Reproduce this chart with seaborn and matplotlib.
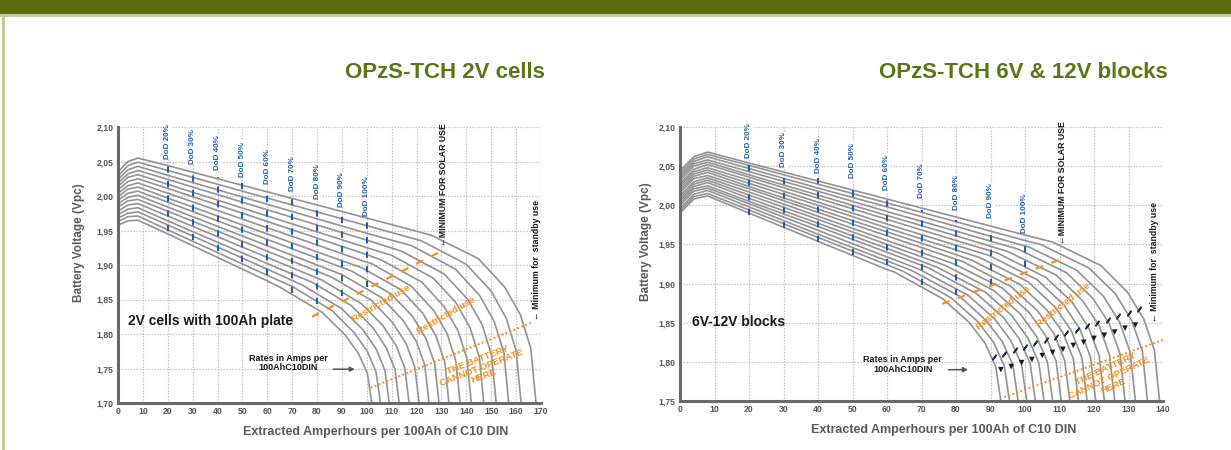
import numpy as np
import pandas as pd
import matplotlib.pyplot as plt
import seaborn as sns
from matplotlib.patches import Rectangle

# ---------------- left chart : OPzS-TCH 2V cells ----------------
left_lin_x = [0, 4, 8, 20, 40, 60, 80, 100, 120]
left_lin_v = [
    [1.958, 1.964, 1.965, 1.945, 1.911, 1.877],
    [1.963, 1.970, 1.971, 1.951, 1.918, 1.885],
    [1.968, 1.975, 1.977, 1.958, 1.926, 1.894],
    [1.973, 1.981, 1.983, 1.964, 1.933, 1.902],
    [1.978, 1.987, 1.989, 1.971, 1.941, 1.911, 1.881],
    [1.984, 1.993, 1.995, 1.978, 1.949, 1.920, 1.891],
    [1.989, 1.998, 2.001, 1.984, 1.956, 1.928, 1.900],
    [1.994, 2.004, 2.007, 1.991, 1.964, 1.937, 1.910],
    [1.999, 2.010, 2.013, 1.997, 1.971, 1.945, 1.919],
    [2.004, 2.015, 2.019, 2.004, 1.979, 1.954, 1.929, 1.904],
    [2.009, 2.021, 2.025, 2.011, 1.987, 1.963, 1.939, 1.915],
    [2.014, 2.027, 2.031, 2.017, 1.994, 1.971, 1.948, 1.925],
    [2.019, 2.032, 2.037, 2.024, 2.002, 1.980, 1.958, 1.936],
    [2.024, 2.038, 2.043, 2.030, 2.009, 1.988, 1.967, 1.946],
    [2.029, 2.044, 2.049, 2.037, 2.017, 1.997, 1.977, 1.957, 1.937],
    [2.035, 2.050, 2.055, 2.044, 2.025, 2.006, 1.987, 1.968, 1.949],
]
left_knee_x = [
    [66, 82.2, 91.2, 96.6, 100.2, 102],
    [70, 86, 94.9, 100.2, 103.7, 105.5],
    [74, 89.8, 98.5, 103.8, 107.3, 109],
    [78, 93.8, 102.5, 107.8, 111.3, 113],
    [82, 97.8, 106.5, 111.8, 115.3, 117],
    [86, 101.8, 110.5, 115.8, 119.3, 121],
    [90, 105.8, 114.5, 119.8, 123.3, 125],
    [94, 109.8, 118.5, 123.8, 127.3, 129],
    [98, 113.8, 122.5, 127.8, 131.3, 133],
    [102, 118, 126.9, 132.2, 135.7, 137.5],
    [106, 122.2, 131.2, 136.6, 140.2, 142],
    [110, 126.7, 135.9, 141.5, 145.2, 147],
    [114, 131.1, 140.6, 146.3, 150.1, 152],
    [118, 135.6, 145.3, 151.2, 155.1, 157],
    [122, 140, 150, 156, 160, 162],
    [126, 144.9, 155.4, 161.7, 165.9, 168],
]
left_knee_v = [
    [1.866, 1.831, 1.799, 1.772, 1.743, 1.70],
    [1.869, 1.834, 1.802, 1.775, 1.745, 1.70],
    [1.871, 1.837, 1.806, 1.778, 1.747, 1.70],
    [1.875, 1.841, 1.809, 1.780, 1.749, 1.70],
    [1.878, 1.844, 1.812, 1.783, 1.750, 1.70],
    [1.882, 1.849, 1.816, 1.786, 1.752, 1.70],
    [1.886, 1.853, 1.820, 1.790, 1.755, 1.70],
    [1.891, 1.858, 1.825, 1.793, 1.757, 1.70],
    [1.896, 1.864, 1.830, 1.797, 1.760, 1.70],
    [1.902, 1.869, 1.834, 1.801, 1.762, 1.70],
    [1.907, 1.875, 1.839, 1.805, 1.765, 1.70],
    [1.914, 1.881, 1.845, 1.809, 1.767, 1.70],
    [1.920, 1.887, 1.850, 1.814, 1.770, 1.70],
    [1.928, 1.894, 1.856, 1.818, 1.773, 1.70],
    [1.935, 1.901, 1.862, 1.823, 1.776, 1.70],
    [1.943, 1.909, 1.868, 1.828, 1.779, 1.70],
]
left_dod_x = [20, 30, 40, 50, 60, 70, 80, 90, 100]
left_dod_text_v = [2.054, 2.047, 2.037, 2.028, 2.018, 2.007, 1.996, 1.984, 1.971]
left_dod_top = [2.043, 2.036, 2.028, 2.020, 2.010, 2.000, 1.990, 1.978, 1.965]
left_dod_bottom = [1.950, 1.936, 1.920, 1.905, 1.885, 1.860, 1.843, 1.855, 1.868]
left_restricted_x = [78, 131]
left_restricted_v = [1.825, 1.922]
left_limit_x = [101.5, 166]
left_limit_v = [1.722, 1.816]
left_yticks = [1.70, 1.75, 1.80, 1.85, 1.90, 1.95, 2.00, 2.05, 2.10]
left_ytick_labels = ["1,70", "1,75", "1,80", "1,85", "1,90", "1,95", "2,00", "2,05", "2,10"]
left_xticks = [0, 10, 20, 30, 40, 50, 60, 70, 80, 90, 100, 110, 120, 130, 140, 150, 160, 170]

# ---------------- right chart : OPzS-TCH 6V & 12V blocks ----------------
right_lin_x = [0, 4, 8, 20, 40, 60, 80, 100]
right_lin_v = [
    [1.990, 2.008, 2.012, 1.990, 1.954, 1.918],
    [1.993, 2.011, 2.015, 1.994, 1.959, 1.924],
    [1.996, 2.014, 2.019, 1.998, 1.963, 1.929],
    [2.000, 2.018, 2.022, 2.002, 1.968, 1.934],
    [2.003, 2.021, 2.025, 2.005, 1.973, 1.940],
    [2.006, 2.024, 2.029, 2.009, 1.977, 1.945],
    [2.009, 2.027, 2.032, 2.013, 1.982, 1.950],
    [2.012, 2.030, 2.035, 2.017, 1.986, 1.955],
    [2.016, 2.034, 2.038, 2.021, 1.991, 1.961, 1.931],
    [2.019, 2.037, 2.042, 2.024, 1.995, 1.966, 1.937],
    [2.022, 2.040, 2.045, 2.028, 2.000, 1.971, 1.943],
    [2.025, 2.043, 2.048, 2.032, 2.004, 1.976, 1.949],
    [2.028, 2.046, 2.052, 2.036, 2.009, 1.982, 1.955],
    [2.032, 2.050, 2.055, 2.039, 2.013, 1.987, 1.961],
    [2.035, 2.053, 2.058, 2.043, 2.018, 1.992, 1.967],
    [2.038, 2.056, 2.062, 2.047, 2.022, 1.998, 1.973, 1.948],
    [2.041, 2.059, 2.065, 2.051, 2.027, 2.003, 1.979, 1.955],
    [2.044, 2.062, 2.068, 2.054, 2.031, 2.008, 1.985, 1.962],
]
right_knee_x = [
    [62, 76, 83.7, 88.4, 91.5, 93],
    [64.5, 78.5, 86.2, 90.9, 94, 95.5],
    [67, 81, 88.7, 93.4, 96.5, 98],
    [69.5, 83.5, 91.2, 95.9, 99, 100.5],
    [72, 86, 93.7, 98.4, 101.5, 103],
    [74.5, 88.5, 96.2, 100.9, 104, 105.5],
    [77, 91, 98.7, 103.4, 106.5, 108],
    [79.5, 93.5, 101.2, 105.9, 109, 110.5],
    [82, 96, 103.7, 108.4, 111.5, 113],
    [84.5, 98.5, 106.2, 110.9, 114, 115.5],
    [87, 101, 108.7, 113.4, 116.5, 118],
    [89.5, 103.5, 111.2, 115.9, 119, 120.5],
    [92, 106, 113.7, 118.4, 121.5, 123],
    [95, 109, 116.7, 121.4, 124.5, 126],
    [98, 112, 119.7, 124.4, 127.5, 129],
    [101, 115, 122.7, 127.4, 130.5, 132],
    [104.5, 118.5, 126.2, 130.9, 134, 135.5],
    [108, 122, 129.7, 134.4, 137.5, 139],
]
right_knee_v = [
    [1.915, 1.881, 1.851, 1.824, 1.794, 1.75],
    [1.916, 1.882, 1.852, 1.825, 1.795, 1.75],
    [1.917, 1.884, 1.853, 1.826, 1.796, 1.75],
    [1.918, 1.885, 1.855, 1.827, 1.797, 1.75],
    [1.920, 1.887, 1.857, 1.829, 1.798, 1.75],
    [1.921, 1.889, 1.859, 1.830, 1.799, 1.75],
    [1.923, 1.891, 1.861, 1.832, 1.800, 1.75],
    [1.925, 1.894, 1.863, 1.834, 1.801, 1.75],
    [1.928, 1.896, 1.865, 1.836, 1.802, 1.75],
    [1.930, 1.899, 1.867, 1.838, 1.804, 1.75],
    [1.933, 1.902, 1.870, 1.840, 1.805, 1.75],
    [1.936, 1.905, 1.873, 1.842, 1.806, 1.75],
    [1.939, 1.908, 1.876, 1.844, 1.808, 1.75],
    [1.941, 1.911, 1.878, 1.847, 1.809, 1.75],
    [1.944, 1.914, 1.881, 1.849, 1.811, 1.75],
    [1.947, 1.917, 1.884, 1.851, 1.812, 1.75],
    [1.950, 1.920, 1.887, 1.853, 1.814, 1.75],
    [1.953, 1.923, 1.889, 1.855, 1.815, 1.75],
]
right_dod_x = [20, 30, 40, 50, 60, 70, 80, 90, 100]
right_dod_text_v = [2.060, 2.049, 2.041, 2.035, 2.020, 2.009, 1.994, 1.984, 1.965]
right_dod_top = [2.051, 2.045, 2.035, 2.020, 2.016, 1.994, 1.981, 1.966, 1.949]
right_dod_bottom = [1.988, 1.971, 1.953, 1.937, 1.924, 1.898, 1.885, 1.898, 1.921]
right_restricted_x = [76, 111]
right_restricted_v = [1.874, 1.932]
right_limit_x = [94, 140]
right_limit_v = [1.755, 1.828]
right_rate_x = [93, 96, 99, 102, 105, 108, 111, 114, 117, 120, 123, 126, 129, 132]
right_rate_v = [1.790, 1.794, 1.799, 1.803, 1.808, 1.812, 1.816, 1.821, 1.825, 1.830, 1.834, 1.838, 1.843, 1.847]
right_mark_x = [91, 94, 97, 100, 103, 106, 109, 112, 115, 118, 121, 124, 127, 130, 133]
right_mark_v = [1.806, 1.810, 1.815, 1.819, 1.824, 1.828, 1.832, 1.837, 1.841, 1.846, 1.850, 1.854, 1.859, 1.863, 1.868]
right_yticks = [1.75, 1.80, 1.85, 1.90, 1.95, 2.00, 2.05, 2.10]
right_ytick_labels = ["1,75", "1,80", "1,85", "1,90", "1,95", "2,00", "2,05", "2,10"]
right_xticks = [0, 10, 20, 30, 40, 50, 60, 70, 80, 90, 100, 110, 120, 130, 140]

dod_labels = ["DoD 20%", "DoD 30%", "DoD 40%", "DoD 50%", "DoD 60%",
              "DoD 70%", "DoD 80%", "DoD 90%", "DoD 100%"]

GREY = "#939393"
BLUE = "#1f5fb0"
ORANGE = "#f7901e"
OLIVE = "#5b6b0e"

sns.set_theme(style="white")
plt.rcParams["font.family"] = ["Liberation Sans", "DejaVu Sans"]


def curve_frame(lin_x, lin_v, knee_x, knee_v):
    rows = []
    for i, (lv, kx, kv) in enumerate(zip(lin_v, knee_x, knee_v)):
        xs = lin_x[:len(lv)] + kx
        vs = lv + kv
        for x, v in zip(xs, vs):
            rows.append({"curve": i, "x": x, "v": v})
    return pd.DataFrame(rows)


def draw_panel(ax, df, xticks, yticks, yticklabels, dod_x, dod_text_v, dod_top, dod_bottom,
               restricted_x, restricted_v, limit_x, limit_v, xlabel_x, ylabel_x):
    sns.lineplot(data=df, x="x", y="v", units="curve", estimator=None, sort=False,
                 color=GREY, lw=1.2, ax=ax, legend=False)
    ax.set_xlim(xticks[0], xticks[-1])
    ax.set_ylim(yticks[0], yticks[-1])
    ax.set_xticks(xticks)
    ax.set_yticks(yticks)
    ax.set_yticklabels(yticklabels)
    ax.tick_params(length=0, labelsize=6.2, labelcolor="#555555", pad=3)
    for lab in ax.get_xticklabels() + ax.get_yticklabels():
        lab.set_fontweight("bold")
    ax.set_axisbelow(True)
    ax.grid(True, color="#b8b8b8", linestyle=(0, (1, 1.4)), lw=0.9)
    for side in ["top", "right"]:
        ax.spines[side].set_visible(False)
    for side in ["left", "bottom"]:
        ax.spines[side].set_color("#6a6a6a")
        ax.spines[side].set_linewidth(2.2)

    ax.set_xlabel("Extracted Amperhours per 100Ah of C10 DIN", fontsize=9,
                  weight="bold", color="#5a5a5a")
    ax.set_ylabel("Battery Voltage (Vpc)", fontsize=8.5, weight="bold", color="#5a5a5a")
    ax.xaxis.set_label_coords(xlabel_x, -0.085)
    ax.yaxis.set_label_coords(ylabel_x, 0.58)

    # depth of discharge markers
    ax.vlines(dod_x, dod_bottom, dod_top, colors=BLUE, lw=1.5,
              linestyles=[(0, (3, 4))], zorder=3)
    for x, v, lab in zip(dod_x, dod_text_v, dod_labels):
        ax.text(x, v, lab, rotation=90, ha="center", va="bottom", fontsize=5.8,
                weight="bold", color=BLUE, zorder=4,
                bbox=dict(fc="white", ec="none", pad=0.3))

    # restricted use / cannot operate boundaries
    ax.plot(restricted_x, restricted_v, color=ORANGE, lw=1.6, linestyle=(0, (3.5, 4)), zorder=3)
    ax.plot(limit_x, limit_v, color=ORANGE, lw=1.4, linestyle=(0, (1, 1.2)), zorder=3)


fig = plt.figure(figsize=(12.31, 4.5), dpi=100)
fig.patch.set_facecolor("white")

# header band and left frame line
fig.add_artist(Rectangle((0, 1 - 14 / 450), 1, 14 / 450, transform=fig.transFigure,
                         color=OLIVE, lw=0))
fig.add_artist(Rectangle((0, 1 - 16.5 / 450), 1, 2.5 / 450, transform=fig.transFigure,
                         color="#c3cb9c", lw=0))
fig.add_artist(Rectangle((2.5 / 1231, 0), 2.5 / 1231, 1 - 16 / 450, transform=fig.transFigure,
                         color="#c3cb9c", lw=0))

ax1 = fig.add_axes([118 / 1231, 47 / 450, 423 / 1231, 276 / 450])
ax2 = fig.add_axes([680 / 1231, 49 / 450, 483 / 1231, 274 / 450])

draw_panel(ax1, curve_frame(left_lin_x, left_lin_v, left_knee_x, left_knee_v),
           left_xticks, left_yticks, left_ytick_labels, left_dod_x, left_dod_text_v,
           left_dod_top, left_dod_bottom, left_restricted_x, left_restricted_v,
           left_limit_x, left_limit_v, 0.61, -0.078)
draw_panel(ax2, curve_frame(right_lin_x, right_lin_v, right_knee_x, right_knee_v),
           right_xticks, right_yticks, right_ytick_labels, right_dod_x, right_dod_text_v,
           right_dod_top, right_dod_bottom, right_restricted_x, right_restricted_v,
           right_limit_x, right_limit_v, 0.545, -0.058)

# titles
fig.text(545 / 1231, 1 - 73 / 450, "OPzS-TCH 2V cells", ha="right", va="center",
         fontsize=16, weight="bold", color="#5f7317")
fig.text(1168 / 1231, 1 - 73 / 450, "OPzS-TCH 6V & 12V blocks", ha="right", va="center",
         fontsize=16, weight="bold", color="#5f7317")

# left annotations
ax1.text(4, 1.819, "2V cells with 100Ah plate", ha="left", va="center", fontsize=10,
         weight="bold", color="#1a1a1a")
ax1.text(68.5, 1.758, "Rates in Amps per\n100AhC10DIN", ha="center", va="center",
         fontsize=6.5, weight="bold", color="#1a1a1a", linespacing=1.1)
ax1.annotate("", xy=(96.3, 1.749), xytext=(85.4, 1.749),
             arrowprops=dict(arrowstyle="-|>", color="#555555", lw=1.1, mutation_scale=7))
ax1.text(131, 1.928, "\u2190MINIMUM FOR SOLAR USE", rotation=90, ha="center", va="bottom",
         fontsize=6.3, weight="bold", color="#1a1a1a")
ax1.text(168, 1.82, "\u2190 Minimum for  standby use", rotation=90, ha="center", va="bottom",
         fontsize=6.3, weight="bold", color="#1a1a1a")
ax1.text(105.6, 1.844, "Restricted use", rotation=30, ha="center", va="center",
         fontsize=6.8, weight="bold", color=ORANGE)
ax1.text(131.7, 1.827, "Restricted use", rotation=30, ha="center", va="center",
         fontsize=6.8, weight="bold", color=ORANGE)
ax1.text(145.9, 1.751, "THE BATTERY\nCANNOT OPERATE\nHERE", rotation=21, ha="center",
         va="center", fontsize=6.8, weight="bold", color=ORANGE, linespacing=1.0,
         multialignment="center")

# right annotations
ax2.text(3.5, 1.851, "6V-12V blocks", ha="left", va="center", fontsize=10,
         weight="bold", color="#1a1a1a")
ax2.text(64.6, 1.797, "Rates in Amps per\n100AhC10DIN", ha="center", va="center",
         fontsize=6.5, weight="bold", color="#1a1a1a", linespacing=1.1)
ax2.annotate("", xy=(84.3, 1.79), xytext=(77, 1.79),
             arrowprops=dict(arrowstyle="-|>", color="#555555", lw=1.1, mutation_scale=7))
ax2.text(111, 1.95, "\u2190MINIMUM FOR SOLAR USE", rotation=90, ha="center", va="bottom",
         fontsize=6.3, weight="bold", color="#1a1a1a")
ax2.text(137.6, 1.851, "\u2190 Minimum for  standby use", rotation=90, ha="center",
         va="bottom", fontsize=6.3, weight="bold", color="#1a1a1a")
ax2.text(93.6, 1.869, "Restricted use", rotation=38, ha="center", va="center",
         fontsize=6.8, weight="bold", color=ORANGE)
ax2.text(111, 1.873, "Restricted use", rotation=38, ha="center", va="center",
         fontsize=6.8, weight="bold", color=ORANGE)
ax2.text(124.5, 1.78, "THE BATTERY\nCANNOT OPERATE\nHERE", rotation=25, ha="center",
         va="center", fontsize=6.8, weight="bold", color=ORANGE, linespacing=1.0,
         multialignment="center")
sns.scatterplot(x=right_rate_x, y=right_rate_v, marker="v", s=16, color="#1a1a1a",
                edgecolor="none", ax=ax2, zorder=5, legend=False)
sns.scatterplot(x=right_mark_x, y=right_mark_v, marker=(2, 2, -35), s=14, color="#1a2a55",
                linewidth=1.2, ax=ax2, zorder=5, legend=False)

fig.savefig("out.png", dpi=100)
